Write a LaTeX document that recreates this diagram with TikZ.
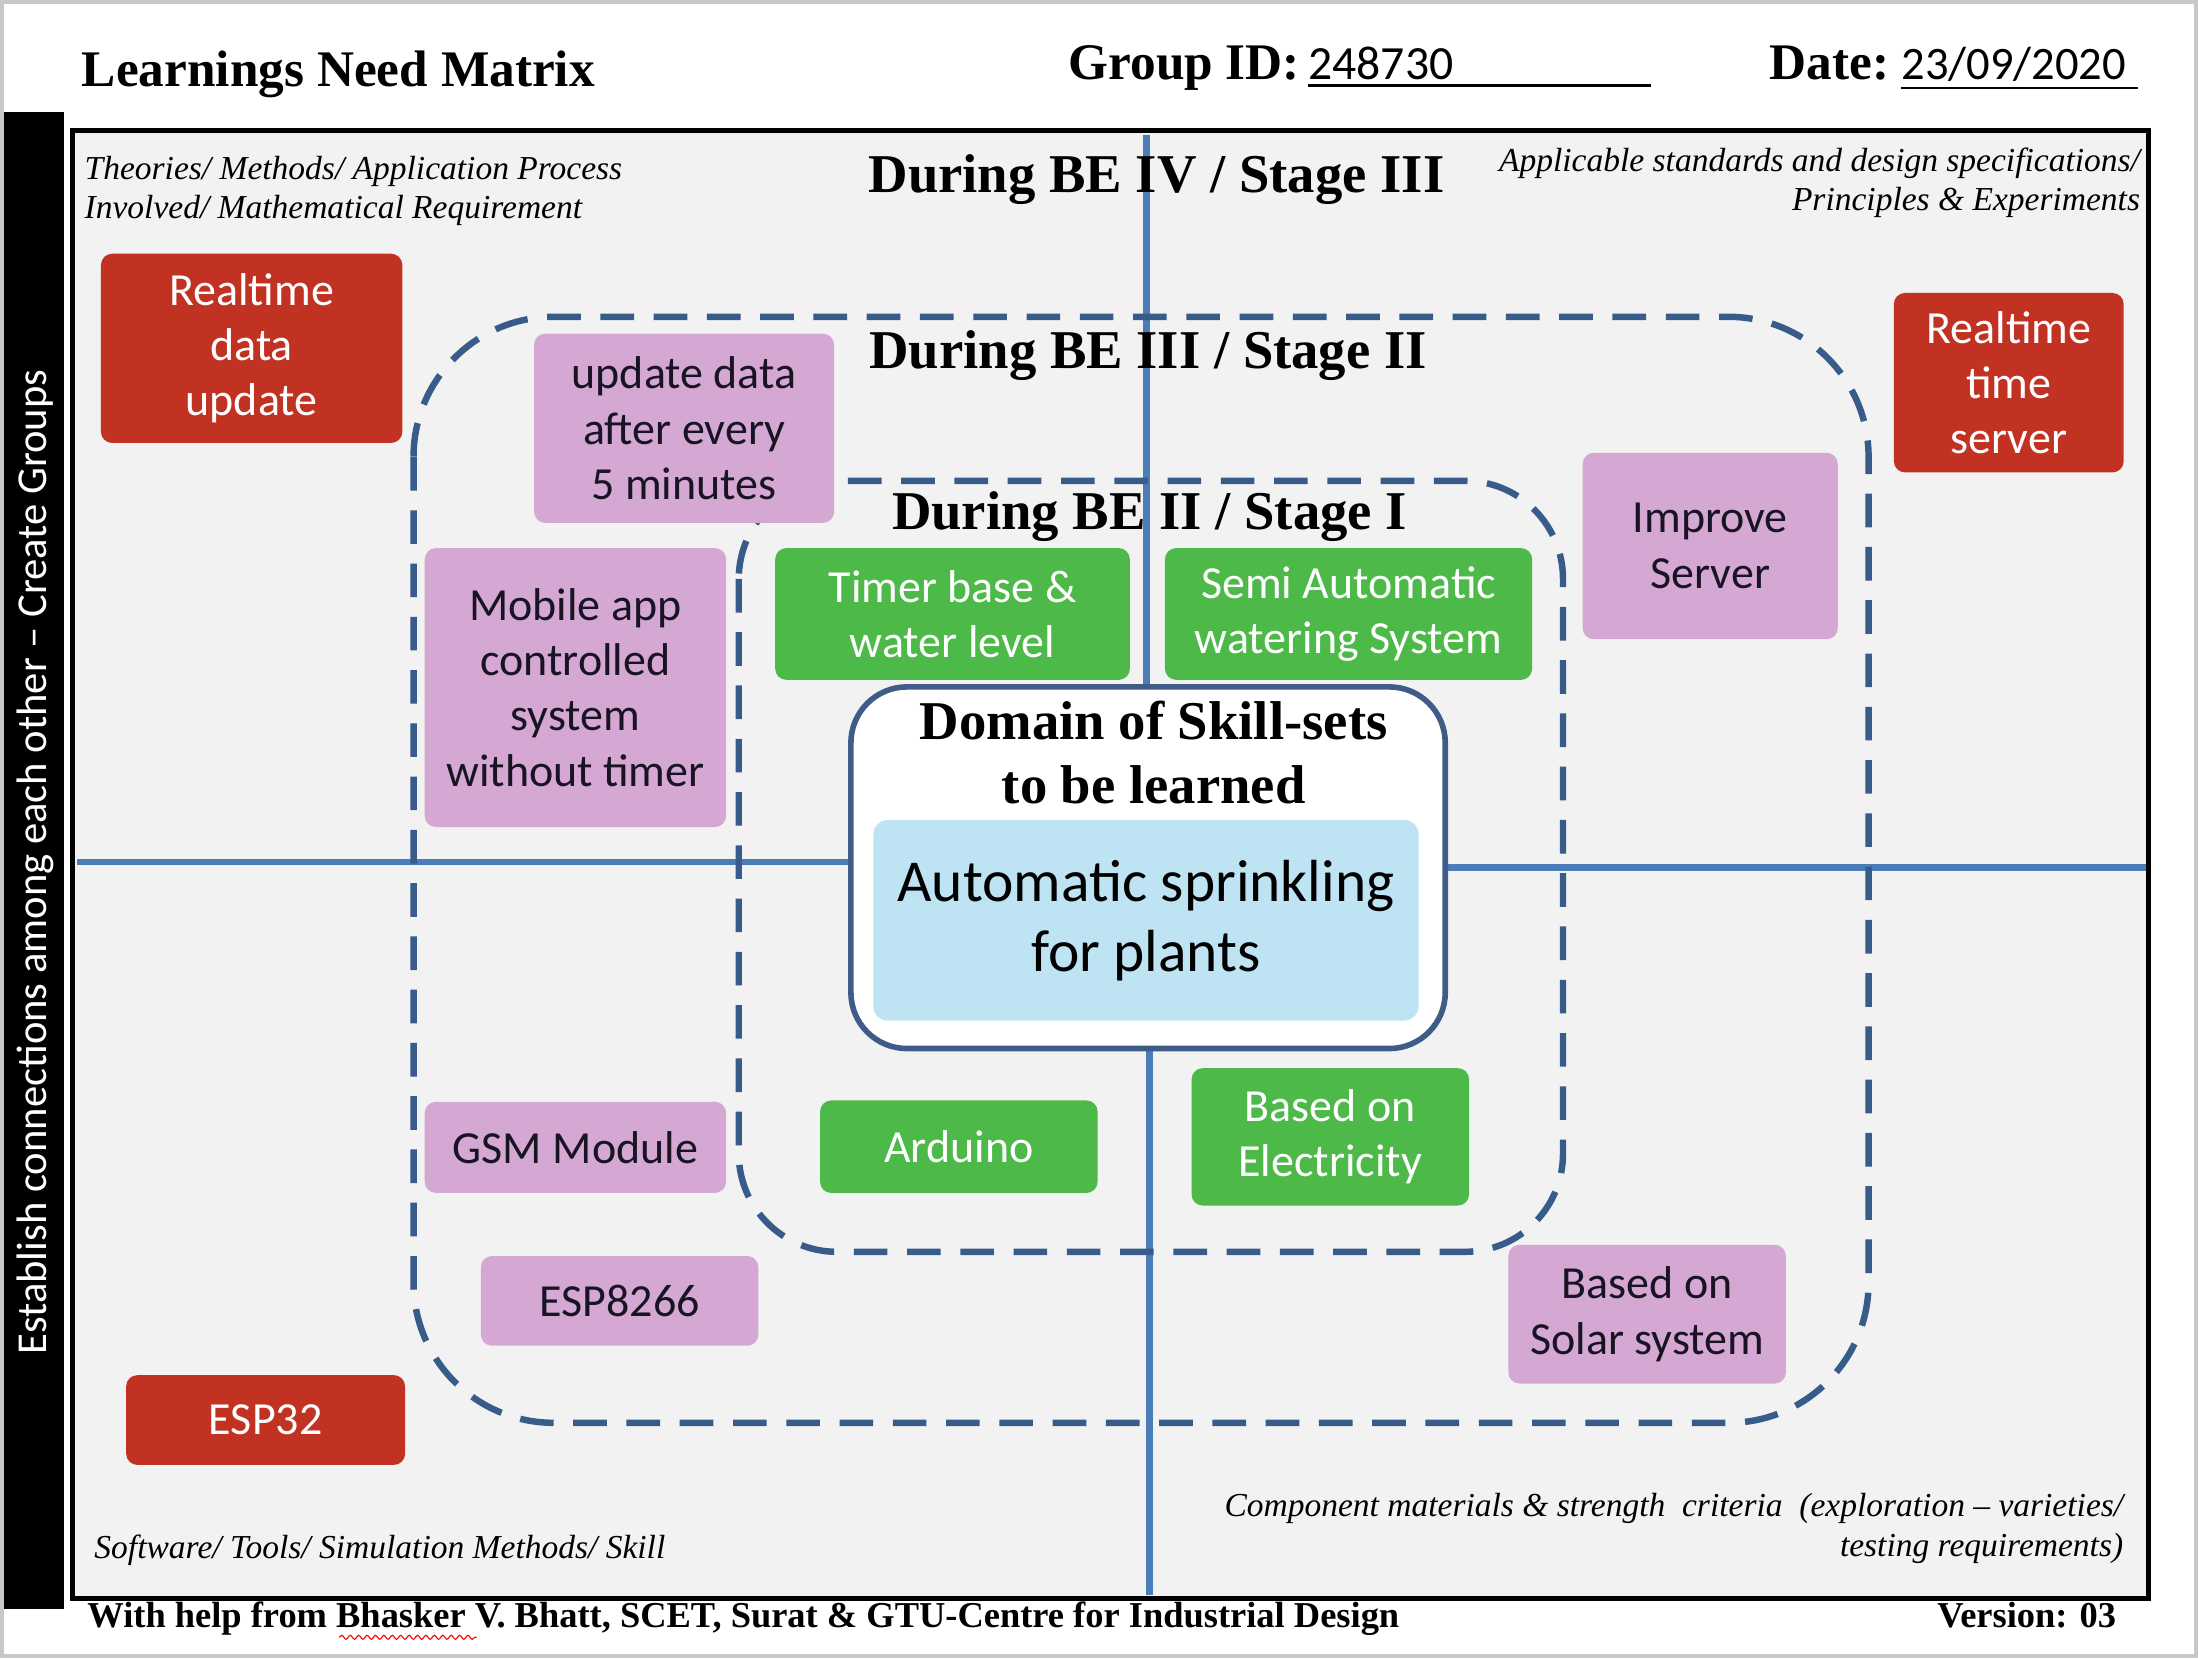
\documentclass[tikz,border=0pt]{standalone}
\usepackage{fontspec}
\setmainfont{Liberation Serif}
\newfontfamily\carl{Carlito}
\usetikzlibrary{decorations.pathmorphing}
\definecolor{bgc}{RGB}{242,242,242}
\definecolor{boxred}{RGB}{194,50,34}
\definecolor{boxpink}{RGB}{212,168,210}
\definecolor{boxgreen}{RGB}{76,185,72}
\definecolor{lblue}{RGB}{190,228,244}
\definecolor{lineblue}{RGB}{74,124,184}
\definecolor{dashblue}{RGB}{56,92,138}
\definecolor{ctrblue}{RGB}{62,92,135}
\definecolor{darktxt}{RGB}{25,20,35}
\pgfdeclarelayer{bgA}
\pgfdeclarelayer{bgB}
\pgfsetlayers{bgA,bgB,main}
\begin{document}
\begin{tikzpicture}[x=0.5pt,y=-0.5pt,
  sz/.style 2 args={minimum width=#1*0.5pt,minimum height=#2*0.5pt},
  box/.style={rounded corners=4pt,align=center,inner sep=0pt,font=\carl\fontsize{16.4}{19.7}\selectfont},
  redbox/.style={box,fill=boxred,text=white},
  pinkbox/.style={box,fill=boxpink,text=darktxt},
  greenbox/.style={box,fill=boxgreen,text=white},
  hdr/.style={inner sep=0pt,font=\bfseries\fontsize{18.3}{22}\selectfont},
  stage/.style={inner sep=0pt,font=\bfseries\fontsize{19.5}{23}\selectfont},
  note/.style={inner sep=0pt,font=\itshape\fontsize{11.95}{14}\selectfont},
  foot/.style={inner sep=0pt,font=\bfseries\fontsize{13}{15}\selectfont},
  dashrect/.style={draw=dashblue,line width=2.3pt,dash pattern=on 12pt off 7pt},
  divider/.style={draw=lineblue,line width=2.4pt}]
\useasboundingbox (0,0) rectangle (1568,1183);
\begin{pgfonlayer}{bgA}
  \fill[white] (0,0) rectangle (1568,1183);
  \draw[black!22,line width=1.5pt] (1.5,1.5) rectangle (1566.5,1181.5);
  \fill[black] (3,80) rectangle (46,1148);
  \fill[bgc] (52,93) rectangle (1533,1140);
  \draw[black,line width=1.8pt] (52,93) rectangle (1533,1140);
\end{pgfonlayer}

% header
\node[hdr,anchor=base west] (title) at (58,62) {Learnings Need Matrix};
\node[hdr,anchor=base west] (gid) at (762,57) {Group ID:};
\node[anchor=base west,inner sep=0pt,font=\carl\fontsize{17}{20}\selectfont] (gidv) at (933,57) {248730};
\node[hdr,anchor=base west] (date) at (1262,57) {Date:};
\node[anchor=base west,inner sep=0pt,font=\carl\fontsize{16.6}{20}\selectfont] (datev) at (1356,57) {23/09/2020};
\coordinate (u1) at (933,61); \coordinate (u2) at (1178,61);
\coordinate (u3) at (1356,63); \coordinate (u4) at (1525,63);
\draw[line width=0.8pt] (u1) -- (u2);
\draw[line width=0.8pt] (u3) -- (u4);

% side bar text
\node[rotate=90,inner sep=0pt,text=white,font=\carl\fontsize{15.2}{18}\selectfont] (side) at (25,615) {Establish connections among each other – Create Groups};

% corner notes
\node[note,anchor=base west] (tl1) at (60,128) {Theories/ Methods/ Application Process};
\node[note,anchor=base west] (tl2) at (60,156) {Involved/ Mathematical Requirement};
\node[note,anchor=base east] (tr1) at (1527,122) {Applicable standards and design specifications/};
\node[note,anchor=base east] (tr2) at (1527,150) {Principles \& Experiments};
\node[note,anchor=base west] (bl1) at (67,1112) {Software/ Tools/ Simulation Methods/ Skill};
\node[note,anchor=base east] (br1) at (1515,1082) {Component materials \& strength\ \ criteria\ \ (exploration – varieties/};
\node[note,anchor=base east] (br2) at (1515,1110) {testing requirements)};

% footer
\node[foot,anchor=base west] (credit) at (62,1161) {With help from Bhasker V. Bhatt, SCET, Surat \& GTU-Centre for Industrial Design};
\node[foot,anchor=base east] (ver) at (1510,1161) {Version: 03};
\coordinate (w1) at (242,1168); \coordinate (w2) at (340,1168);
\draw[red,line width=0.4pt,decorate,decoration={snake,amplitude=0.7pt,segment length=3pt}] (w1) -- (w2);

% stage labels
\node[stage,anchor=base] (s3) at (825,137) {During BE IV / Stage III};
\node[stage,anchor=base] (s2) at (819,263) {During BE III / Stage II};
\node[stage,anchor=base] (s1) at (820,378) {During BE II / Stage I};

% centre
\node[draw=ctrblue,line width=2pt,fill=white,rounded corners=20pt,sz={424}{258}] (ctr) at (819,619) {};
\node[inner sep=0pt,align=center,font=\bfseries\fontsize{19.5}{23}\selectfont] (dom) at (823,537) {Domain of Skill-sets\\to be learned};
\node[fill=lblue,rounded corners=5pt,sz={389}{143},align=center,inner sep=0pt,font=\carl\fontsize{21.2}{25}\selectfont] (topic) at (817.5,656.5) {Automatic sprinkling\\for plants};

% red boxes
\node[redbox,sz={215}{135}] (r1) at (179.5,248.5) {Realtime\\data\\update};
\node[redbox,sz={164}{128}] (r2) at (1433,273) {Realtime\\time\\server};
\node[redbox,sz={199}{64}] (r3) at (189.5,1013) {ESP32};

% pink boxes
\node[pinkbox,sz={214}{135}] (p1) at (488,305.5) {update data\\after every\\5 minutes};
\node[pinkbox,sz={215}{199}] (p2) at (410.5,490.5) {Mobile app\\controlled\\system\\without timer};
\node[pinkbox,sz={182}{133}] (p3) at (1220,389.5) {Improve\\Server};
\node[pinkbox,sz={215}{65}] (p4) at (410.5,818.5) {GSM Module};
\node[pinkbox,sz={198}{64}] (p5) at (442,928) {ESP8266};
\node[pinkbox,sz={198}{99}] (p6) at (1175,937.5) {Based on\\Solar system};

% green boxes
\node[greenbox,sz={253}{94}] (g1) at (679.5,438) {Timer base \&\\water level};
\node[greenbox,sz={262}{94}] (g2) at (962,438) {Semi Automatic\\watering System};
\node[greenbox,sz={198}{66}] (g3) at (684,818) {Arduino};
\node[greenbox,sz={198}{98}] (g4) at (949,811) {Based on\\Electricity};

\begin{pgfonlayer}{bgB}
  \coordinate (vt) at (818,96);
  \coordinate (vb) at (820,1138);
  \coordinate (hl) at (55,615);
  \coordinate (hr) at (1531,619);
  \draw[divider] (vt) -- (vt |- ctr.north);
  \draw[divider] (vb) -- (vb |- ctr.south);
  \draw[divider] (hl) -- (hl -| ctr.west);
  \draw[divider] (hr) -- (hr -| ctr.east);
  \draw[dashrect,rounded corners=50pt] (295,226) rectangle (1333,1015);
  \draw[dashrect,rounded corners=35pt] (527,343) rectangle (1115,893);
\end{pgfonlayer}
\end{tikzpicture}
\end{document}
